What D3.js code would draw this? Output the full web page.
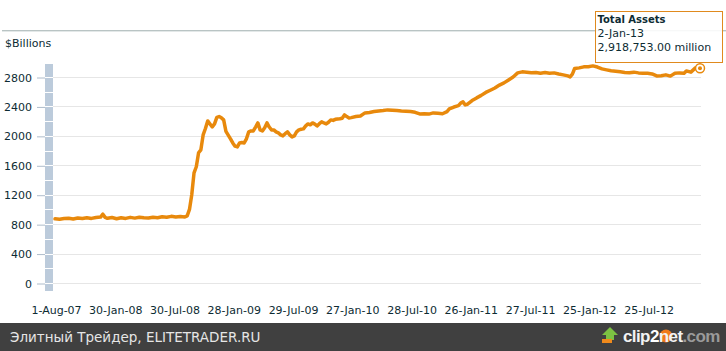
<!DOCTYPE html>
<html>
<head>
<meta charset="utf-8">
<script src="https://cdn.jsdelivr.net/npm/d3@7"></script>
<style>
  body { margin: 0; background: #fff; }
  #chart { width: 726px; height: 351px; }
  text { font-family: Verdana, "DejaVu Sans", sans-serif; }
  .grid line { stroke: #e6e6e6; }
  .line { fill: none; stroke: #e8890c; stroke-width: 3.5; stroke-linejoin: round; stroke-linecap: round; }
</style>
</head>
<body>
<div id="chart"></div>
<script>
// weekly-ish Fed total assets, $ billions
const dates = [
  "2007-08-01","2007-08-15","2007-08-29","2007-09-12","2007-09-26","2007-10-10","2007-10-24","2007-11-07",
  "2007-11-21","2007-12-05","2007-12-19","2007-12-26","2008-01-02","2008-01-09","2008-01-23","2008-02-06",
  "2008-02-20","2008-03-05","2008-03-19","2008-04-02","2008-04-16","2008-04-30","2008-05-14","2008-05-28",
  "2008-06-11","2008-06-25","2008-07-09","2008-07-23","2008-08-06","2008-08-20","2008-09-03","2008-09-10",
  "2008-09-17","2008-09-24","2008-10-01","2008-10-08","2008-10-15","2008-10-22","2008-10-29","2008-11-05",
  "2008-11-12","2008-11-19","2008-11-26","2008-12-03","2008-12-10","2008-12-17","2008-12-24","2008-12-31",
  "2009-01-07","2009-01-14","2009-01-21","2009-01-28","2009-02-04","2009-02-11","2009-02-18","2009-02-25",
  "2009-03-04","2009-03-11","2009-03-18","2009-03-25","2009-04-01","2009-04-08","2009-04-15","2009-04-22",
  "2009-04-29","2009-05-06","2009-05-13","2009-05-20","2009-05-27","2009-06-03","2009-06-10","2009-06-17",
  "2009-06-24","2009-07-01","2009-07-08","2009-07-15","2009-07-22","2009-07-29","2009-08-05","2009-08-12",
  "2009-08-19","2009-08-26","2009-09-02","2009-09-09","2009-09-16","2009-09-23","2009-09-30","2009-10-07",
  "2009-10-14","2009-10-21","2009-10-28","2009-11-04","2009-11-11","2009-11-18","2009-11-25","2009-12-02",
  "2009-12-09","2009-12-16","2009-12-23","2009-12-30","2010-01-06","2010-01-13","2010-01-20","2010-01-27",
  "2010-02-10","2010-02-24","2010-03-10","2010-03-24","2010-04-07","2010-04-21","2010-05-05","2010-05-19",
  "2010-06-02","2010-06-16","2010-06-30","2010-07-14","2010-07-28","2010-08-11","2010-08-25","2010-09-08",
  "2010-09-22","2010-10-06","2010-10-20","2010-11-03","2010-11-17","2010-11-24","2010-12-08","2010-12-22",
  "2010-12-29","2011-01-05","2011-01-12","2011-01-19","2011-02-02","2011-02-16","2011-03-02","2011-03-16",
  "2011-03-30","2011-04-13","2011-04-27","2011-05-11","2011-05-25","2011-06-08","2011-06-22","2011-07-06",
  "2011-07-20","2011-08-03","2011-08-17","2011-08-31","2011-09-14","2011-09-28","2011-10-12","2011-10-26",
  "2011-11-09","2011-11-23","2011-11-30","2011-12-07","2011-12-14","2011-12-28","2012-01-11","2012-01-25",
  "2012-02-08","2012-02-22","2012-03-07","2012-03-21","2012-04-04","2012-04-18","2012-05-02","2012-05-16",
  "2012-05-30","2012-06-13","2012-06-27","2012-07-11","2012-07-25","2012-08-08","2012-08-22","2012-09-05",
  "2012-09-19","2012-10-03","2012-10-17","2012-10-31","2012-11-14","2012-11-21","2012-12-05","2012-12-19",
  "2012-12-26","2013-01-02"
];
const assets = [
  872, 866, 876, 880, 870, 884, 876, 888,
  878, 890, 896, 935, 892, 880, 890, 874,
  888, 878, 892, 882, 894, 886, 884, 894,
  888, 900, 894, 906, 896, 904, 898, 912,
  1000, 1200, 1496, 1580, 1770, 1810, 2013, 2100,
  2203, 2162, 2122, 2162, 2252, 2262, 2245, 2217,
  2060, 2010, 1960, 1904, 1860, 1850, 1904, 1910,
  1904, 1960, 2054, 2067, 2067, 2120, 2176, 2081,
  2067, 2110, 2176, 2120, 2081, 2081, 2054, 2040,
  2013, 2000, 2030, 2054, 2013, 1986, 2000, 2054,
  2081, 2090, 2095, 2135, 2162, 2150, 2176, 2160,
  2135, 2165, 2190, 2175, 2162, 2185, 2217, 2210,
  2225, 2230, 2232, 2240, 2285, 2262, 2244, 2248,
  2262, 2271, 2312, 2318, 2330, 2339, 2345, 2353,
  2348, 2344, 2339, 2336, 2330, 2320, 2298, 2300,
  2296, 2312, 2306, 2300, 2330, 2366, 2392, 2410,
  2445, 2462, 2420, 2430, 2480, 2516, 2550, 2590,
  2620, 2650, 2690, 2720, 2760, 2800, 2856, 2870,
  2866, 2858, 2862, 2852, 2860, 2850, 2856, 2840,
  2829, 2815, 2802, 2840, 2915, 2924, 2938, 2940,
  2951, 2935, 2910, 2897, 2885, 2878, 2870, 2862,
  2858, 2866, 2856, 2852, 2850, 2842, 2815, 2818,
  2829, 2812, 2850, 2856, 2852, 2883, 2866, 2924,
  2905, 2918.753
];
const yTicks = [0, 400, 800, 1200, 1600, 2000, 2400, 2800];
const barSteps = [0, 200, 400, 600, 800, 1000, 1200, 1400, 1600, 1800, 2000, 2200, 2400, 2600, 2800];
const xTickDates = ["2007-08-01","2008-01-30","2008-07-30","2009-01-28","2009-07-29","2010-01-27",
                    "2010-07-28","2011-01-26","2011-07-27","2012-01-25","2012-07-25"];
const seriesName = "Total Assets";
const yTitle = "$Billions";
const footerText = "Элитный Трейдер, ELITETRADER.RU";

const ink = "#0d2b33";
const parse = d3.timeParse("%Y-%m-%d");
const data = dates.map((d, i) => ({ date: parse(d), value: assets[i] }));

const svg = d3.select("#chart").append("svg")
  .attr("width", 726)
  .attr("height", 351);

const x = d3.scaleTime()
  .domain([parse("2007-08-01"), parse("2013-01-02")])
  .range([55, 700]);
const y = d3.scaleLinear()
  .domain([0, 2800])
  .range([283, 77]);

// header rule
svg.append("line").attr("x1", 2).attr("x2", 726).attr("y1", 30.5).attr("y2", 30.5)
  .attr("stroke", "#b9c4c4");
svg.append("line").attr("x1", 2).attr("x2", 726).attr("y1", 31.5).attr("y2", 31.5)
  .attr("stroke", "#e3e8e8");

svg.append("text")
  .attr("x", 5).attr("y", 47)
  .style("font-size", "11px")
  .style("fill", ink)
  .text(yTitle);

// gridlines
svg.append("g").attr("class", "grid")
  .selectAll("line")
  .data(yTicks)
  .join("line")
  .attr("x1", 53).attr("x2", 701)
  .attr("y1", d => Math.round(y(d)) + 0.5)
  .attr("y2", d => Math.round(y(d)) + 0.5);

// axis bar
svg.append("rect")
  .attr("x", 45).attr("y", 64)
  .attr("width", 8).attr("height", 227)
  .attr("fill", "#bccbdb");
svg.append("g")
  .selectAll("line")
  .data(barSteps)
  .join("line")
  .attr("x1", 45).attr("x2", 53)
  .attr("y1", d => Math.round(y(d)) + 0.5)
  .attr("y2", d => Math.round(y(d)) + 0.5)
  .attr("stroke", "#fff");

const yAxis = d3.axisLeft(y)
  .tickValues(yTicks)
  .tickFormat(d3.format("d"))
  .tickSize(8)
  .tickPadding(5);
const gy = svg.append("g")
  .attr("transform", "translate(45,0.5)")
  .call(yAxis);
gy.select(".domain").remove();
gy.selectAll(".tick line").attr("stroke", "#aebccb");
gy.selectAll(".tick text")
  .style("font-size", "11px")
  .style("font-family", "Verdana, 'DejaVu Sans', sans-serif")
  .style("fill", ink);

const xAxis = d3.axisBottom(x)
  .tickValues(xTickDates.map(parse))
  .tickFormat(d3.timeFormat("%-d-%b-%y"))
  .tickSize(0)
  .tickPadding(3);
const gx = svg.append("g")
  .attr("transform", "translate(1,303)")
  .call(xAxis);
gx.select(".domain").remove();
gx.selectAll(".tick text")
  .style("font-size", "11px")
  .style("font-family", "Verdana, 'DejaVu Sans', sans-serif")
  .style("fill", ink);

// series
const line = d3.line()
  .x(d => x(d.date))
  .y(d => y(d.value));
svg.append("path")
  .datum(data)
  .attr("class", "line")
  .attr("d", line);

const last = data[data.length - 1];
svg.append("circle")
  .attr("cx", x(last.date)).attr("cy", y(last.value))
  .attr("r", 4.5)
  .attr("fill", "#fff").attr("stroke", "#e8890c").attr("stroke-width", 1.5);
svg.append("circle")
  .attr("cx", x(last.date)).attr("cy", y(last.value))
  .attr("r", 2)
  .attr("fill", "#e8890c");

// tooltip
const tip = svg.append("g").attr("transform", "translate(595.5,11.5)");
tip.append("rect")
  .attr("width", 127).attr("height", 51)
  .attr("fill", "#fff").attr("fill-opacity", 0.88)
  .attr("stroke", "#e08a1e");
tip.append("text")
  .attr("x", 2).attr("y", 11)
  .style("font-size", "10px").style("font-weight", "bold")
  .style("fill", ink)
  .text(seriesName);
tip.append("text")
  .attr("x", 2).attr("y", 25)
  .style("font-size", "11px")
  .style("fill", ink)
  .text(d3.timeFormat("%-d-%b-%y")(last.date));
tip.append("text")
  .attr("x", 2).attr("y", 39)
  .style("font-size", "11px")
  .style("fill", ink)
  .text(d3.format(",.2f")(last.value * 1000) + " million");

// footer
svg.append("rect")
  .attr("x", 0).attr("y", 323)
  .attr("width", 726).attr("height", 28)
  .attr("fill", "#404040");
svg.append("text")
  .attr("x", 10).attr("y", 342)
  .style("font-size", "13.5px")
  .style("font-family", "'DejaVu Sans', sans-serif")
  .style("fill", "#e6e6e6")
  .text(footerText);

const logo = svg.append("g");
logo.append("path")
  .attr("d", "M610,327 L618,335 L614,335 L614,340 L606,340 L606,335 L602,335 Z")
  .attr("fill", "#7cc242");
logo.append("rect")
  .attr("x", 602).attr("y", 339).attr("width", 10).attr("height", 4)
  .attr("fill", "#f08a1c");
logo.append("circle")
  .attr("cx", 666).attr("cy", 336).attr("r", 6.5)
  .attr("fill", "#f07a1a");
const logoText = logo.append("text")
  .attr("x", 623).attr("y", 342)
  .style("font-size", "17px")
  .style("font-weight", "bold")
  .style("font-family", "'Liberation Sans', Arial, sans-serif")
  .style("letter-spacing", "-0.6px");
logoText.append("tspan").style("fill", "#f2f2f2").text("clip");
logoText.append("tspan").style("fill", "#ffffff").text("2");
logoText.append("tspan").style("fill", "#f2f2f2").text("net");
logoText.append("tspan").style("fill", "#9a9a9a").text(".com");
</script>
</body>
</html>
